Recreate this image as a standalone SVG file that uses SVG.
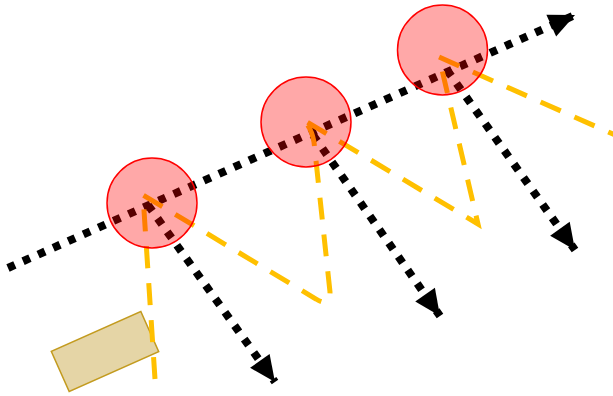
<svg xmlns="http://www.w3.org/2000/svg" width="613" height="396" viewBox="0 0 613 396">
  <style>
    .ray { fill: none; stroke: #000; stroke-width: 8; stroke-dasharray: 7.5 9; }
    .bounce { fill: none; stroke: #ffc000; stroke-width: 5; stroke-dasharray: 22 15; stroke-linejoin: miter; }
    .scatterer { fill: #ff0000; fill-opacity: 0.34; stroke: #ff0000; stroke-width: 1.5; }
    .block { fill: #e5d5a6; stroke: #c39b1f; stroke-width: 1.5; }
  </style>
  <defs>
    <marker id="head" markerUnits="userSpaceOnUse" markerWidth="30" markerHeight="28" viewBox="-1 -14 30 28" refX="26" refY="0" orient="auto">
      <path d="M0,-12 L26,0 L0,12 z" fill="#000"/>
    </marker>
  </defs>

  <!-- base block -->
  <g id="block">
    <rect class="block" x="-49" y="-22" width="98" height="44" transform="translate(105 351.5) rotate(-24)"/>
  </g>

  <!-- connectors: main ray, scattered rays and the zig-zag path -->
  <g id="connectors">
    <line class="ray" x1="8" y1="268" x2="575" y2="15" marker-end="url(#head)"/>
    <line class="ray" x1="148" y1="205" x2="275" y2="382" marker-end="url(#head)"/>
    <line class="ray" x1="313" y1="135" x2="440" y2="316" marker-end="url(#head)"/>
    <line class="ray" x1="447" y1="70" x2="575" y2="250" marker-end="url(#head)"/>
    <path class="bounce" d="M155,379 L143,195 L316,299 Q330,308 330,292 L314,142 Q311,126 302,119 L478,224 L439,57 L622,138"/>
  </g>

  <!-- scattering centres -->
  <g id="scatterer-1">
    <circle class="scatterer" cx="152" cy="203" r="45"/>
  </g>
  <g id="scatterer-2">
    <circle class="scatterer" cx="306" cy="122" r="45"/>
  </g>
  <g id="scatterer-3">
    <circle class="scatterer" cx="442.5" cy="50" r="45"/>
  </g>
</svg>
